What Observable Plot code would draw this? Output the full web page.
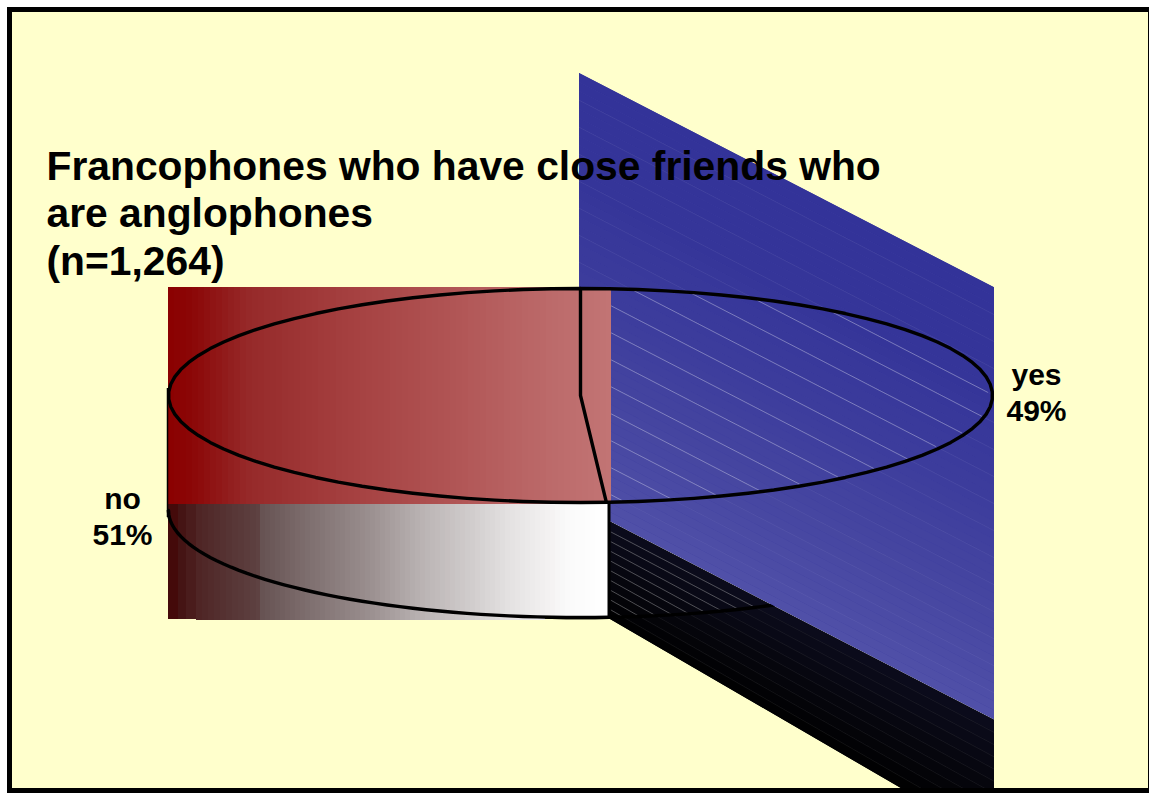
<!DOCTYPE html>
<html>
<head>
<meta charset="utf-8">
<script src="https://cdn.jsdelivr.net/npm/d3@7"></script>
<script src="https://cdn.jsdelivr.net/npm/@observablehq/plot@0.6"></script>
<style>html,body{margin:0;padding:0;background:#fff;overflow:hidden}svg{display:block}</style>
</head>
<body>
<div id="chart"></div>
<script>
// Data
const categories = ["yes", "no"];
const shares = [49, 51];
const titleLines = ["Francophones who have close friends who", "are anglophones", "(n=1,264)"];

// Colour stops (styles)
const W = 1149, H = 793;
const blueStops = [[0, "#333399"], [0.25, "#353599"], [0.48, "#3c3c9c"], [0.72, "#4545a0"], [1, "#5050a8"]];
const blackStops = [[0, "#0b0b1c"], [0.5, "#07070f"], [1, "#000000"]];
const redStops = [[168, "#8b0000"], [192, "#8b0707"], [250, "#962a2a"], [350, "#a54040"], [450, "#b05454"], [550, "#bc6a6a"], [611, "#c27474"]];
const shadeStops = [[168, "#440a0a"], [178, "#451414"], [186, "#4a1c1c"], [196, "#4e2424"], [259, "#5e4242"], [261, "#665252"], [300, "#7a6a6a"], [370, "#9a8f8f"], [420, "#b9b2b2"], [470, "#d0cccc"], [510, "#e4e2e2"], [545, "#f2f0f0"], [570, "#fbfbfb"], [610, "#ffffff"]];
const colourAt = (stops, v) => {
  let i = stops.findIndex(s => s[0] >= v);
  if (i <= 0) return i === 0 ? stops[0][1] : stops[stops.length - 1][1];
  const [a, ca] = stops[i - 1], [b, cb] = stops[i];
  return d3.interpolateRgb(ca, cb)((v - a) / (b - a));
};

// Pie projection
const cx = 580, cy = 395, rx = 412, ry = 107, depth = 115;
const rim = (deg, yc = cy) => ({x: cx + rx * Math.sin(deg * Math.PI / 180), y: yc - ry * Math.cos(deg * Math.PI / 180)});
const noSweep = shares[categories.indexOf("no")] * 3.6;
const topEllipse = d3.range(0, 361, 4).map(d => rim(d));
const lowerArc = d3.range(270, 150, -2).map(d => rim(d, cy + depth));
const sliceLine = [rim(0), {x: cx, y: cy}, rim(-noSweep)];

// Wall behind the pie (blue) and the floor (black)
const wallX = [579, 994], wallTop = 73, wallSlope = 0.5165, wallHeight = 432, hatch = 27;
const wallY = (x, off) => wallTop + off + (x - wallX[0]) * wallSlope;
const wallBands = d3.range(0, wallHeight, hatch / 3).flatMap((o, i) => {
  const o2 = Math.min(o + hatch / 3, wallHeight);
  const fill = colourAt(blueStops, (o + o2) / 2 / wallHeight);
  return wallX.map(x => ({band: i, x, y1: wallY(x, o), y2: wallY(x, o2), fill}));
});
const wallBase = wallX.map(x => ({x, y1: wallY(x, 0), y2: wallY(x, wallHeight)}));
const hatchOffsets = d3.range(27, wallHeight, hatch);
const hatchOuter = hatchOffsets.flatMap(o => wallX.map(x => ({o, x, y: wallY(x, o)})));
const inTop = p => ((p.x - cx) / rx) ** 2 + ((p.y - cy) / ry) ** 2 < 0.985;
const hatchInner = hatchOffsets.flatMap(o => d3.range(611, 994, 2).map(x => ({o, x, y: wallY(x, o)})).filter(inTop));

const floorX = [610, 994];
const floorTop = x => 521.5 + (x - 610) * 0.5165, floorBottom = x => 619 + (x - 610) * 0.581;
const floorY = (x, t) => floorTop(x) + (floorBottom(x) - floorTop(x)) * t;
const floorN = 10;
const floorBands = d3.range(floorN).flatMap(i => floorX.map(x => ({band: i, x, y1: floorY(x, i / floorN), y2: floorY(x, (i + 1) / floorN), fill: colourAt(blackStops, (i + 0.5) / floorN)})));
const floorBase = floorX.map(x => ({x, y1: floorY(x, 0), y2: floorY(x, 1)}));
const floorLines = d3.range(1, floorN).flatMap(i => floorX.map(x => ({i, x, y: floorY(x, i / floorN)})));
const inLower = p => ((p.x - cx) / rx) ** 2 + ((p.y - cy - depth) / ry) ** 2 < 1;
const floorInner = d3.range(1, floorN).flatMap(i => d3.range(611, 800, 2).map(x => ({i, x, y: floorY(x, i / floorN)})).filter(inLower));

// Sliced colour rectangles
const edges = (a, b, n) => d3.range(a, b, n).map(x => ({x1: x, x2: Math.min(x + n, b)}));
const redBands = edges(168, 611, 6).map(d => ({...d, fill: colourAt(redStops, d.x1 + 3)}));
const shadeBands = [...[[168, 178], [178, 186], [186, 196]].map(([x1, x2]) => ({x1, x2})), ...edges(196, 260, 6), ...edges(260, 609, 5)]
  .map(d => ({...d, fill: colourAt(shadeStops, d.x1 < 196 ? d.x1 : (d.x1 + d.x2) / 2), bottom: d.x1 < 196 ? 619 : d.x1 < 541 ? 620 : 617}));

const chart = Plot.plot({
  width: W, height: H, margin: 0,
  x: {domain: [0, W], range: [0, W], axis: null},
  y: {domain: [0, H], range: [0, H], axis: null},
  color: {type: "identity"},
  style: {background: "#fff"},
  marks: [
    Plot.rect([{}], {x1: 9.5, x2: 1150.5, y1: 9.5, y2: 790.5, fill: "#ffffcc"}),
    // floor
    Plot.areaY(floorBase, {x: "x", y1: "y1", y2: "y2", fill: "#05050c", clip: true}),
    Plot.areaY(floorBands, {x: "x", y1: "y1", y2: "y2", fill: "fill", z: "band", clip: true}),
    Plot.line(floorLines, {x: "x", y: "y", z: "i", stroke: "#fff", strokeOpacity: 0.07, strokeWidth: 1, clip: true}),
    Plot.line(floorInner, {x: "x", y: "y", z: "i", stroke: "#fff", strokeOpacity: 0.25, strokeWidth: 1}),
    Plot.line(lowerArc, {x: "x", y: "y", stroke: "#000", strokeWidth: 3.4}),
    // wall
    Plot.areaY(wallBase, {x: "x", y1: "y1", y2: "y2", fill: "#4040a0"}),
    Plot.areaY(wallBands, {x: "x", y1: "y1", y2: "y2", fill: "fill", z: "band"}),
    Plot.line(hatchOuter, {x: "x", y: "y", z: "o", stroke: "#fff", strokeOpacity: 0.06, strokeWidth: 1}),
    Plot.line(hatchInner, {x: "x", y: "y", z: "o", stroke: "#fff", strokeOpacity: 0.3, strokeWidth: 1}),
    // slices
    Plot.rect(redBands, {x1: "x1", x2: "x2", y1: 287, y2: 504, fill: "fill"}),
    Plot.rect(shadeBands, {x1: "x1", x2: "x2", y1: 504, y2: "bottom", fill: "fill"}),
    Plot.line(lowerArc.filter(p => p.x <= 610), {x: "x", y: "y", stroke: "#000", strokeWidth: 3.4}),
    Plot.ruleX([608.5], {y1: 504, y2: 618, stroke: "#000", strokeWidth: 3}),
    Plot.ruleX([167], {y1: 388, y2: 517, stroke: "#000", strokeWidth: 1.5}),
    Plot.line(topEllipse, {x: "x", y: "y", stroke: "#000", strokeWidth: 3.4}),
    Plot.line(sliceLine, {x: "x", y: "y", stroke: "#000", strokeWidth: 3.4}),
    // text
    Plot.text([titleLines.join("\n")], {x: 46, y: 274, text: d => d, textAnchor: "start", lineAnchor: "bottom", lineHeight: 1.16, fontSize: 40.8, fontWeight: 700, fontFamily: "Liberation Sans", fill: "#000"}),
    Plot.text(categories.map((c, i) => `${c}\n${shares[i]}%`), {x: [1036, 122], y: [420, 544], text: d => d, textAnchor: "middle", lineAnchor: "bottom", lineHeight: 1.18, fontSize: 30, fontWeight: 700, fontFamily: "Liberation Sans", fill: "#000"}),
    // frame
    Plot.rect([{}], {x1: 9.5, x2: 1150.5, y1: 9.5, y2: 790.5, fill: "none", stroke: "#000", strokeWidth: 5})
  ]
});
document.getElementById("chart").append(chart);
</script>
</body>
</html>
